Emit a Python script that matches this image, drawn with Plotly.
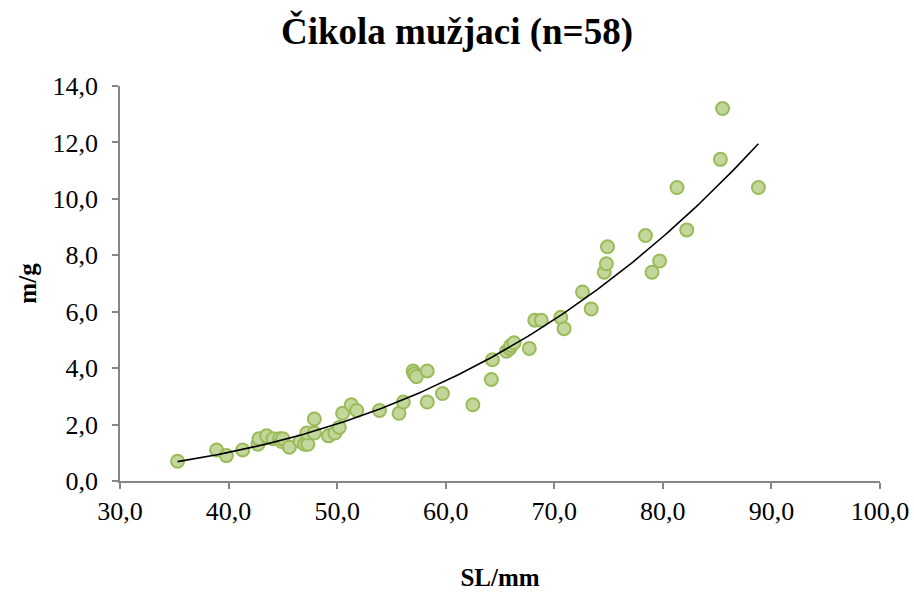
import numpy as np
import plotly.graph_objects as go

# Standard length (mm) and mass (g) of male fish
sl_mm = [35.3, 38.9, 39.8, 41.3, 42.7, 42.8, 43.5, 44.1, 44.7, 44.9,
         45.0, 45.6, 46.6, 47.0, 47.3, 47.2, 47.9, 47.9, 49.2, 49.8,
         50.2, 50.5, 51.3, 51.8, 53.9, 55.7, 56.1, 57.0, 57.1, 57.3,
         58.3, 58.3, 59.7, 62.5, 64.3, 64.2, 65.6, 65.9, 66.0, 66.3,
         67.7, 68.2, 68.8, 70.6, 70.9, 73.4, 72.6, 74.6, 74.8, 74.9,
         78.4, 79.0, 79.7, 81.3, 82.2, 85.3, 85.5, 88.8]
mass_g = [0.7, 1.1, 0.9, 1.1, 1.3, 1.5, 1.6, 1.5, 1.5, 1.4,
          1.5, 1.2, 1.4, 1.3, 1.3, 1.7, 2.2, 1.7, 1.6, 1.7,
          1.9, 2.4, 2.7, 2.5, 2.5, 2.4, 2.8, 3.9, 3.8, 3.7,
          3.9, 2.8, 3.1, 2.7, 4.3, 3.6, 4.6, 4.7, 4.8, 4.9,
          4.7, 5.7, 5.7, 5.8, 5.4, 6.1, 6.7, 7.4, 7.7, 8.3,
          8.7, 7.4, 7.8, 10.4, 8.9, 11.4, 13.2, 10.4]

title_text = "Čikola mužjaci (n=58)"
x_title = "SL/mm"
y_title = "m/g"

x = np.array(sl_mm)
y = np.array(mass_g)
# power trendline y = a * x^b (least squares in log-log space)
b, ln_a = np.polyfit(np.log(x), np.log(y), 1)
xf = np.linspace(x.min(), x.max(), 200)
yf = np.exp(ln_a) * xf ** b

font_family = "Liberation Serif, Times New Roman, serif"
axis_col = "#868686"

fig = go.Figure()
fig.add_trace(go.Scatter(
    x=sl_mm, y=mass_g, mode="markers",
    marker=dict(size=13, color="#c3d69b", line=dict(color="#9bbb59", width=2)),
    showlegend=False, hoverinfo="x+y"))
fig.add_trace(go.Scatter(
    x=xf, y=yf, mode="lines", line=dict(color="black", width=1.6),
    showlegend=False, hoverinfo="skip"))

fig.update_layout(
    width=914, height=592,
    paper_bgcolor="white", plot_bgcolor="white",
    margin=dict(l=120, r=34, t=86, b=111, autoexpand=False),
    separators=", ",
    font=dict(family=font_family, color="black", size=26),
    title=dict(text="<b>" + title_text + "</b>", x=0.5, xanchor="center",
               y=1 - 31 / 592, yanchor="middle", automargin=False,
               font=dict(family=font_family, size=37, color="black")),
    xaxis=dict(
        range=[30, 100], dtick=10, tick0=30, tickformat=".1f",
        showgrid=False, zeroline=False, automargin=False,
        showline=True, linecolor=axis_col, linewidth=1.5,
        ticks="outside", ticklen=6, tickwidth=1.5, tickcolor=axis_col,
        tickfont=dict(size=26, family=font_family),
        title=dict(text="<b>" + x_title + "</b>", standoff=44,
                   font=dict(size=25, family=font_family)),
    ),
    yaxis=dict(
        range=[0, 14], dtick=2, tickformat=".1f",
        showgrid=False, zeroline=False, automargin=False,
        showline=True, linecolor=axis_col, linewidth=1.5,
        ticks="outside", ticklen=6, tickwidth=1.5, tickcolor=axis_col,
        ticklabelstandoff=9,
        tickfont=dict(size=26, family=font_family),
        title=dict(text="<b>" + y_title + "</b>", standoff=9,
                   font=dict(size=25, family=font_family)),
    ),
)

fig.write_html("out.html", config={"displayModeBar": False},
               post_script="document.body.style.margin='0px';document.body.style.overflow='hidden';")
